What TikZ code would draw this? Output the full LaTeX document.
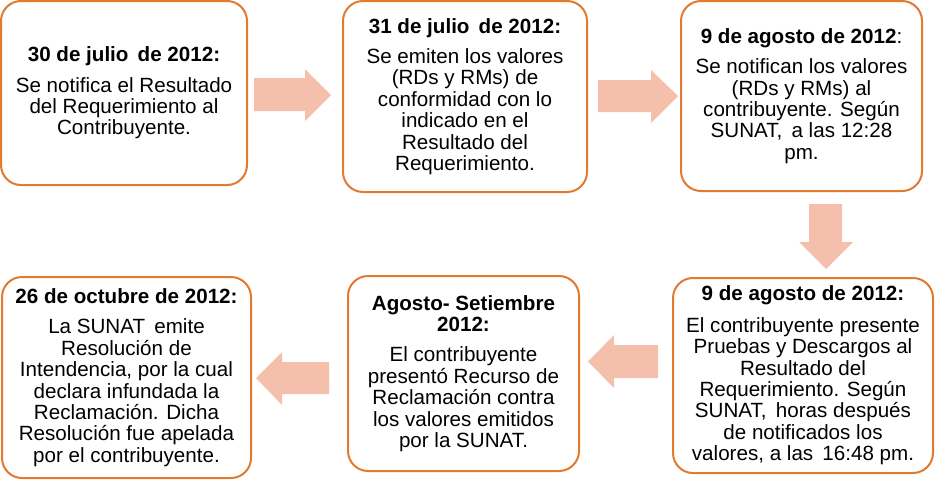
\documentclass[tikz,border=0pt]{standalone}
\usepackage{fontspec}
\setmainfont{Liberation Sans}
\definecolor{boxline}{RGB}{226,122,48}
\definecolor{arrowfill}{RGB}{244,192,172}
\begin{document}
\begin{tikzpicture}[x=1pt,y=-1pt,
  box/.style={draw=boxline, line width=2pt, rounded corners=20pt, fill=white},
  txt/.style={align=center, font=\fontsize{20.6}{21.4}\selectfont, inner sep=0pt},
  blockarrow/.style={fill=arrowfill, draw=none}]
\useasboundingbox (0,0) rectangle (940,480);

% boxes
\node[box, minimum width=246pt, minimum height=184pt] (b1) at (124,93) {};
\node[box, minimum width=244pt, minimum height=191pt] (b2) at (465,96.5) {};
\node[box, minimum width=241pt, minimum height=190pt] (b3) at (801.5,96) {};
\node[box, minimum width=260pt, minimum height=195pt] (b4) at (803,375.5) {};
\node[box, minimum width=231pt, minimum height=195pt] (b5) at (463.5,373.5) {};
\node[box, minimum width=249pt, minimum height=201pt] (b6) at (126.5,377.5) {};

% texts
\node[txt] (t1) at (b1.center) {\textbf{30 de julio\, de 2012:}\\[9pt]
Se notifica el Resultado\\del Requerimiento al\\Contribuyente.};
\node[txt] (t2) at (b2.center) {\textbf{31 de julio\, de 2012:}\\[9pt]
Se emiten los valores\\(RDs y RMs) de\\conformidad con lo\\indicado en el\\Resultado del\\Requerimiento.};
\node[txt] (t3) at (b3.center) {\textbf{9 de agosto de 2012}:\\[9pt]
Se notifican los valores\\(RDs y RMs) al\\contribuyente. Según\\SUNAT,\, a las 12:28\\pm.};
\node[txt] (t4) at (b4.center) {\textbf{9 de agosto de 2012:}\\[10pt]
El contribuyente presente\\Pruebas y Descargos al\\Resultado del\\Requerimiento. Según\\SUNAT,\, horas después\\de notificados los\\valores, a las\, 16:48 pm.};
\node[txt] (t5) at (b5.center) {\textbf{Agosto- Setiembre}\\\textbf{2012:}\\[9pt]
El contribuyente\\presentó Recurso de\\Reclamación contra\\los valores emitidos\\por la SUNAT.};
\node[txt] (t6) at (b6.center) {\textbf{26 de octubre de 2012:}\\[9pt]
La SUNAT\, emite\\Resolución de\\Intendencia, por la cual\\declara infundada la\\Reclamación. Dicha\\Resolución fue apelada\\por el contribuyente.};

% block arrows
\fill[blockarrow] (254,78) -- (305,78) -- (305,69) -- (331,95) -- (305,121) -- (305,111) -- (254,111) -- cycle;
\fill[blockarrow] (598,80) -- (651,80) -- (651,70) -- (678,96) -- (651,123) -- (651,112) -- (598,112) -- cycle;
\fill[blockarrow] (809,204) -- (842,204) -- (842,242) -- (853,242) -- (826,269) -- (799,242) -- (809,242) -- cycle;
\fill[blockarrow] (658,345) -- (614,345) -- (614,335) -- (588,361.5) -- (614,388) -- (614,378) -- (658,378) -- cycle;
\fill[blockarrow] (329,362) -- (282,362) -- (282,352) -- (256,378) -- (282,405) -- (282,394) -- (329,394) -- cycle;
\end{tikzpicture}
\end{document}
